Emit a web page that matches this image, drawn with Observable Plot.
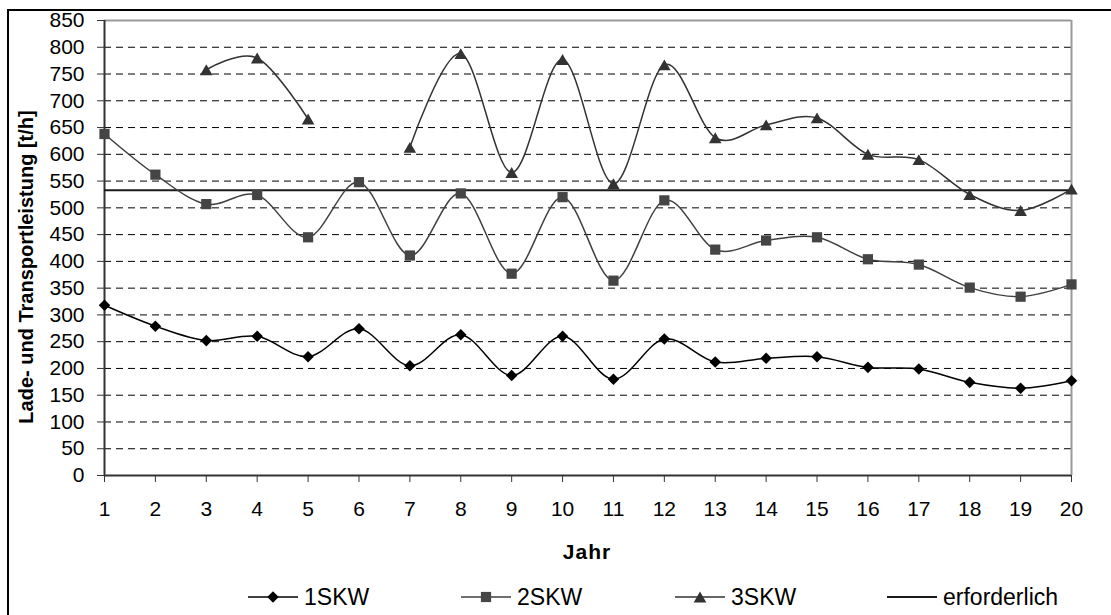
<!DOCTYPE html>
<html>
<head>
<meta charset="utf-8">
<script src="https://cdn.jsdelivr.net/npm/d3@7"></script>
<script src="https://cdn.jsdelivr.net/npm/@observablehq/plot@0.6"></script>
<style>
  html, body { margin: 0; padding: 0; background: #fff; overflow: hidden; }
  #wrap { position: relative; width: 1111px; height: 615px; font-family: "Liberation Sans", Arial, sans-serif; color: #000; }
  #frame { position: absolute; left: 7px; top: 9px; width: 1200px; height: 700px;
           border-left: 2px solid #000; border-top: 2px solid #000; pointer-events: none; }
  #chart svg { display: block; }
  #legend { position: absolute; left: 0; top: 586px; width: 1111px; height: 22px; }
  .item { position: absolute; top: 0; height: 22px; display: flex; align-items: center; }
  .item span { font-size: 23px; line-height: 22px; margin-left: 6px; }
</style>
</head>
<body>
<div id="wrap">
  <div id="chart"></div>
  <div id="legend"></div>
  <div id="frame"></div>
</div>
<script>
// Years on the horizontal axis
const years = [1, 2, 3, 4, 5, 6, 7, 8, 9, 10, 11, 12, 13, 14, 15, 16, 17, 18, 19, 20];

// Loading and transport capacity [t/h] per configuration
const skw1 = [318, 279, 252, 260, 222, 274, 205, 263, 187, 260, 180, 255, 212, 219, 222, 202, 199, 174, 163, 177];
const skw2 = [638, 562, 507, 524, 445, 548, 411, 527, 377, 520, 364, 514, 422, 439, 445, 404, 394, 351, 334, 357];
const skw3 = [null, null, 758, 780, 666, null, 613, 788, 566, 777, 545, 767, 631, 655, 668, 600, 590, 525, 495, 535];

// Required capacity [t/h]
const required = 533;

// Value-axis ticks
const yTicks = [0, 50, 100, 150, 200, 250, 300, 350, 400, 450, 500, 550, 600, 650, 700, 750, 800, 850];

const seriesNames = ["1SKW", "2SKW", "3SKW", "erforderlich"];

const rows = years.map((year, i) => ({year, skw1: skw1[i], skw2: skw2[i], skw3: skw3[i]}));

const font = "'Liberation Sans', Arial, sans-serif";

const chart = Plot.plot({
  width: 1111,
  height: 570,
  marginLeft: 104,
  marginRight: 40,
  marginTop: 20,
  marginBottom: 95,
  x: {domain: [1, 20]},
  y: {domain: [0, 850]},
  style: {background: "transparent", fontFamily: font, color: "#000", overflow: "visible"},
  marks: [
    // dashed gridlines
    Plot.ruleY(yTicks.filter(v => v > 0 && v < 850), {stroke: "#000", strokeDasharray: "7,5", strokeWidth: 1}),
    // plot-area border (top and right)
    Plot.ruleY([850], {stroke: "#9a9a9a", strokeWidth: 2}),
    Plot.ruleX([20], {y1: 0, y2: 850, stroke: "#9a9a9a", strokeWidth: 2}),
    // axes
    Plot.axisY({ticks: yTicks, tickSize: 7, tickPadding: 13, fontSize: 21, label: null, stroke: "#333"}),
    Plot.axisX({ticks: years, tickSize: 7, tickPadding: 19, fontSize: 21, label: null, stroke: "#333", tickFormat: d => String(d)}),
    Plot.ruleX([1], {y1: 0, y2: 850, stroke: "#333", strokeWidth: 2}),
    Plot.ruleY([0], {stroke: "#333", strokeWidth: 2}),
    // required capacity
    Plot.ruleY([required], {x1: 1, x2: 20, stroke: "#1a1a1a", strokeWidth: 2}),
    // series
    Plot.line(rows, {x: "year", y: "skw1", curve: "cardinal", stroke: "#000", strokeWidth: 1.5}),
    Plot.line(rows, {x: "year", y: "skw2", curve: "cardinal", stroke: "#404040", strokeWidth: 1.5}),
    Plot.line(rows, {x: "year", y: "skw3", curve: "cardinal", stroke: "#333", strokeWidth: 1.5}),
    Plot.dot(rows, {x: "year", y: "skw1", symbol: "diamond2", r: 5.2, fill: "#000"}),
    Plot.dot(rows, {x: "year", y: "skw2", symbol: "square2", r: 6.5, fill: "#454545"}),
    Plot.dot(rows, {x: "year", y: "skw3", symbol: "triangle2", r: 6, dy: 1.8, fill: "#333"})
  ]
});

document.getElementById("chart").appendChild(chart);

// axis titles
const svg = d3.select(chart);
svg.append("text")
  .attr("transform", "translate(26,267) rotate(-90)")
  .attr("text-anchor", "middle")
  .attr("dy", "0.35em")
  .attr("font-size", 20)
  .attr("font-weight", "bold")
  .attr("font-family", font)
  .attr("fill", "#000")
  .text("Lade- und Transportleistung [t/h]");
svg.append("text")
  .attr("x", 587)
  .attr("y", 552)
  .attr("text-anchor", "middle")
  .attr("dy", "0.35em")
  .attr("font-size", 21)
  .attr("font-weight", "bold")
  .attr("letter-spacing", 1)
  .attr("font-family", font)
  .attr("fill", "#000")
  .text("Jahr");

// legend
const legendSpec = [
  {left: 248, symbol: d3.symbolDiamond2, size: 5.2 * 5.2 * Math.PI, color: "#000", line: "#000"},
  {left: 461, symbol: d3.symbolSquare2, size: 6.5 * 6.5 * Math.PI, color: "#454545", line: "#404040"},
  {left: 675, symbol: d3.symbolTriangle2, size: 6 * 6 * Math.PI, color: "#333", line: "#333"},
  {left: 887, symbol: null, color: "#000", line: "#1a1a1a"}
];
const legend = d3.select("#legend");
legendSpec.forEach((s, i) => {
  const item = legend.append("div").attr("class", "item").style("left", s.left + "px");
  const sw = item.append("svg").attr("width", 50).attr("height", 22);
  sw.append("line").attr("x1", 0).attr("x2", 50).attr("y1", 11).attr("y2", 11)
    .attr("stroke", s.line).attr("stroke-width", i === 3 ? 2 : 1.5);
  if (s.symbol) {
    sw.append("path").attr("d", d3.symbol(s.symbol, s.size)())
      .attr("transform", `translate(25,${i === 2 ? 12.8 : 11})`).attr("fill", s.color);
  }
  item.append("span").text(seriesNames[i]);
});
</script>
</body>
</html>
